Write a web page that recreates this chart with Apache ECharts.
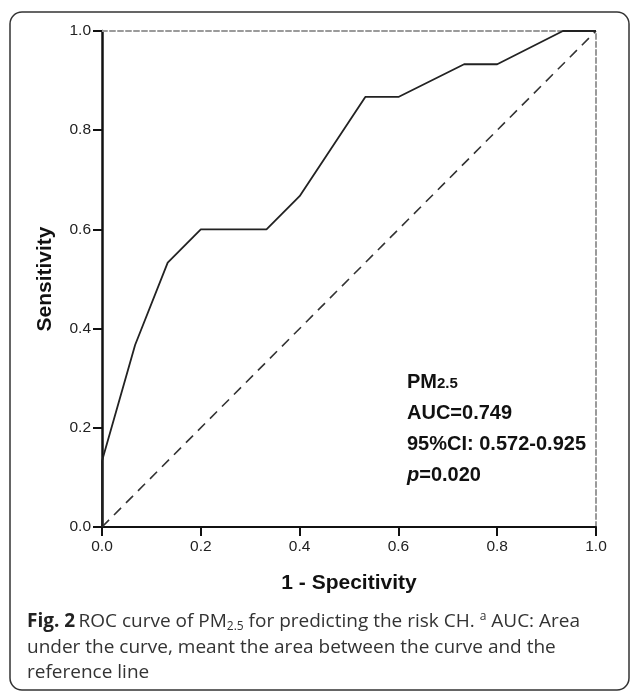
<!DOCTYPE html>
<html>
<head>
<meta charset="utf-8">
<script src="https://cdn.jsdelivr.net/npm/echarts@6/dist/echarts.min.js"></script>
<style>
html,body{margin:0;padding:0;background:#fff;}
#chart{width:630px;height:693px;}
</style>
</head>
<body>
<div id="chart"></div>
<script>
// ROC curve data (1 - specificity, sensitivity)
var rocX = [0, 0, 0.067, 0.133, 0.2, 0.333, 0.4, 0.533, 0.6, 0.733, 0.8, 0.933, 1.0];
var rocY = [0, 0.133, 0.367, 0.533, 0.6, 0.6, 0.667, 0.867, 0.867, 0.933, 0.933, 1.0, 1.0];
// reference (chance) line
var refX = [0, 1];
var refY = [0, 1];
// ticks
var tickMin = 0, tickMax = 1, tickStep = 0.2;
var xName = '1 - Specitivity';
var yName = 'Sensitivity';
var statsLines = ['AUC=0.749', '95%CI: 0.572-0.925', '=0.020'];

var chart = echarts.init(document.getElementById('chart'), null, {renderer: 'canvas'});
var FONT = '"Liberation Sans", Arial, sans-serif';
var CAP = '"Open Sans", sans-serif';

function pairs(xs, ys) { return xs.map(function (x, i) { return [x, ys[i]]; }); }

var axisBase = {
  type: 'value', min: tickMin, max: tickMax, interval: tickStep,
  splitLine: {show: false}
};

var option = {
  animation: false,
  backgroundColor: '#fff',
  grid: {left: 102, top: 31, right: 34, bottom: 166, containLabel: false},
  xAxis: [
    Object.assign({}, axisBase, {
      position: 'bottom',
      name: xName, nameLocation: 'middle', nameGap: 46,
      nameTextStyle: {fontFamily: FONT, fontWeight: 'bold', fontSize: 21, color: '#111'},
      axisLine: {show: true, onZero: false, lineStyle: {color: '#111', width: 2}},
      axisTick: {show: true, length: 9, lineStyle: {color: '#111', width: 2}},
      axisLabel: {fontFamily: FONT, fontSize: 15.5, color: '#222', margin: 12,
        formatter: function (v) { return v.toFixed(1); }}
    }),
    Object.assign({}, axisBase, {
      position: 'top',
      axisLine: {show: true, onZero: false, lineStyle: {color: '#9a9a9a', width: 2, type: [5, 3]}},
      axisTick: {show: false}, axisLabel: {show: false}
    })
  ],
  yAxis: [
    Object.assign({}, axisBase, {
      position: 'left',
      name: yName, nameLocation: 'middle', nameGap: 46, nameRotate: 90,
      nameTextStyle: {fontFamily: FONT, fontWeight: 'bold', fontSize: 21, color: '#111'},
      axisLine: {show: true, onZero: false, lineStyle: {color: '#111', width: 2.5}},
      axisTick: {show: true, length: 9, lineStyle: {color: '#111', width: 2}},
      axisLabel: {fontFamily: FONT, fontSize: 15.5, color: '#222', margin: 11,
        formatter: function (v) { return v.toFixed(1); }}
    }),
    Object.assign({}, axisBase, {
      position: 'right',
      axisLine: {show: true, onZero: false, lineStyle: {color: '#9a9a9a', width: 2, type: [5, 3]}},
      axisTick: {show: false}, axisLabel: {show: false}
    })
  ],
  series: [
    {
      type: 'line', name: 'Reference', data: pairs(refX, refY),
      symbol: 'none', silent: true, z: 2,
      lineStyle: {color: '#333', width: 1.6, type: [10, 7]}
    },
    {
      type: 'line', name: 'ROC', data: pairs(rocX, rocY),
      symbol: 'none', silent: true, z: 3,
      lineStyle: {color: '#222', width: 1.8}
    }
  ],
  graphic: [
    {
      type: 'rect', z: 0,
      shape: {x: 10, y: 12, width: 619, height: 678, r: 12},
      style: {fill: 'none', stroke: '#333', lineWidth: 1.5}
    },
    {
      type: 'text', left: 407, top: 372, z: 10,
      style: {
        text: '{b|PM}{s|2.5}\n{b|' + statsLines[0] + '}\n{b|' + statsLines[1] + '}\n{i|p}{b|' + statsLines[2] + '}',
        rich: {
          b: {fontFamily: FONT, fontWeight: 'bold', fontSize: 20, fill: '#111', lineHeight: 31, verticalAlign: 'bottom'},
          s: {fontFamily: FONT, fontWeight: 'bold', fontSize: 15, fill: '#111', lineHeight: 31, verticalAlign: 'bottom', padding: [0, 0, 1, 0]},
          i: {fontFamily: FONT, fontWeight: 'bold', fontStyle: 'italic', fontSize: 20, fill: '#111', lineHeight: 31, verticalAlign: 'bottom'}
        }
      }
    },
    {
      type: 'text', left: 27, top: 611, z: 10,
      style: {
        text: '{fb|Fig. 2} {t|ROC curve of PM}{sub|2.5}{t| for predicting the risk CH. }{sup|a}{t| AUC: Area}\n{t|under the curve, meant the area between the curve and the}\n{t|reference line}',
        rich: {
          fb: {fontFamily: CAP, fontWeight: 'bold', fontSize: 19, fill: '#222', lineHeight: 25.5},
          t: {fontFamily: CAP, fontSize: 19, fill: '#333', lineHeight: 25.5},
          sub: {fontFamily: CAP, fontSize: 12, fill: '#333', lineHeight: 25.5, padding: [10, 0, 0, 0]},
          sup: {fontFamily: CAP, fontSize: 12, fill: '#333', lineHeight: 25.5, padding: [0, 0, 10, 0]}
        }
      }
    }
  ]
};
chart.setOption(option);
</script>
</body>
</html>
